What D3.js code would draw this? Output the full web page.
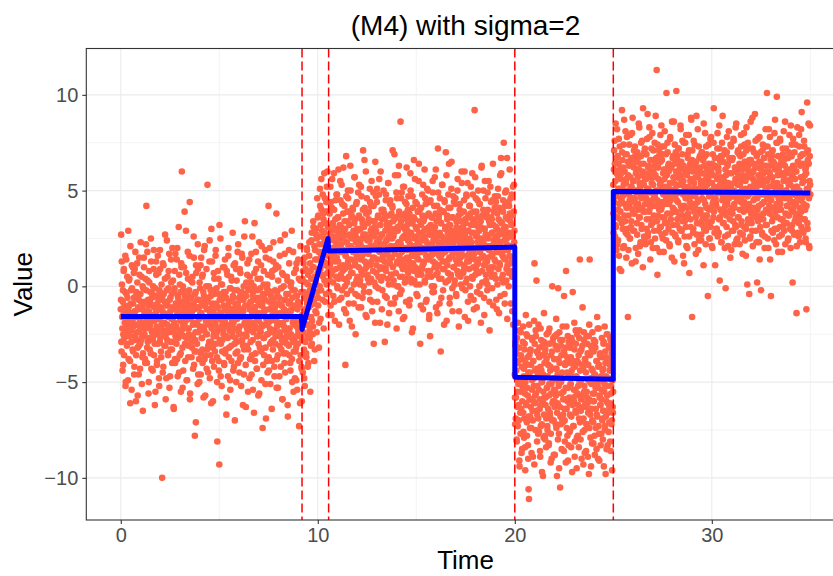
<!DOCTYPE html>
<html>
<head>
<meta charset="utf-8">
<script src="https://cdn.jsdelivr.net/npm/d3@7"></script>
<style>
  body { margin: 0; background: #fff; }
  svg { display: block; }
  text { font-family: "Liberation Sans", Arial, Helvetica, sans-serif; }
</style>
</head>
<body>
<svg id="chart" width="833" height="576"></svg>
<script>
// Observations lie on a regular time grid (every 0.01). Each segment is stored as
// two interleaved series: the even grid steps and the odd grid steps.
const TIME_STEP = 0.02;
const evenStarts = [0, 9.2, 10.56, 20, 25];
const oddStarts  = [0.01, 9.21, 10.57, 20.01, 25.01];

const valuesA = [
  -1.2, 2.7, -3.4, 0.1, -2.2, -0.8, -4.1, -1.5, 0.9, -2.7, -1.9, -0.3, -5.2, -1.1, 1.4, -2.5, -3.0, -0.6, -1.7, 2.9,
  -3.8, -1.0, 0.4, -2.3, -6.1, -1.4, -0.2, -2.9, 1.1, -1.8, -3.3, -0.9, -2.0, 0.7, -4.6, -1.3, -2.6, 1.8, -0.5, -3.6,
  -1.6, -2.4, 0.2, -5.7, -1.1, -0.7, -3.1, 1.5, -2.1, -4.3, -0.4, -1.9, -2.8, 0.5, -1.2, -3.7, -6.5, -0.1, -2.2, 1.0,
  -2.5, -0.8, -4.0, -1.3, 2.2, 4.2, -1.7, -3.2, 0.3, -2.0, -1.0, -5.0, 0.8, -2.7, -1.5, -0.3, -3.5, 1.3, -2.3, -0.6,
  -1.8, -4.4, 0.0, -2.6, 1.9, -1.1, -3.0, -0.5, -5.5, -1.4, 0.6, -2.1, -3.9, -0.9, 1.6, -2.4, -1.2, -4.8, -0.2, -2.9,
  0.9, -1.6, -3.4, -0.7, -2.0, -10.0, -1.3, 1.2, -4.2, -0.4, -2.5, -1.9, 0.4, -3.1, -5.9, -0.8, -1.5, 2.4, -2.8, -1.0,
  -3.6, -0.1, -2.2, 1.7, -1.4, -4.7, -0.6, -2.9, 0.2, -1.7, -3.3, 2.0, -1.1, -2.4, -6.3, -0.3, -1.9, 0.8, -4.0, -2.6,
  -0.9, -2.1, 1.4, -3.8, -1.2, -0.5, -2.7, 3.1, -4.5, -1.6, 0.1, -2.3, -3.5, -0.8, 1.0, 6.0, -1.4, -5.3, -2.0, -0.2,
  -2.6, -1.1, 3.9, -3.0, -0.6, -1.8, 0.7, -4.9, -2.2, -1.3, 1.8, -3.7, -0.4, -2.5, -1.0, 4.4, -5.6, -1.7, 0.3, -2.9,
  -1.5, -3.2, 0.5, -2.0, -0.9, 2.6, -4.1, -1.2, -7.8, -2.8, -0.3, 1.1, -3.4, -1.9, -0.7, -5.1, 0.9, -2.4, -1.1, -3.8,
  0.2, -2.1, -1.4, -4.6, 1.5, -0.8, -2.7, -3.3, 0.6, -1.6, -5.8, -0.5, -2.3, 2.1, -1.0, -3.6, -1.8, 0.0, -4.3, -2.5,
  5.3, -1.2, -3.1, -0.6, -2.0, 1.3, -4.8, -1.5, -0.2, -2.9, 3.0, -1.7, -3.9, -0.9, -6.0, -1.3, 0.7, -2.4, -0.4, -3.4,
  -1.9, 1.9, -2.6, -0.1, -3.7, -8.1, -1.1, -2.2, 0.4, -4.4, -9.3, -0.7, -1.6, 2.5, -3.0, -1.4, -5.2, 0.1, -2.8, -0.5,
  -2.3, -1.0, -4.0, 1.0, -1.8, -3.5, -0.3, -2.6, -6.7, 0.8, -1.3, -2.1, -4.7, 1.6, -0.8, -3.2, -1.5, -0.1, -5.4, -2.0,
  0.5, -3.9, -1.2, -2.4, 2.8, -0.6, -1.9, -4.2, -0.2, -3.0, 1.2, -2.7, -1.1, -5.0, 0.3, -1.7, -3.4, -0.9, 2.2, -2.2,
  -1.4, -4.5, 0.9, -2.5, -0.4, -3.7, -1.6, 1.7, -2.9, -0.7, -6.2, -1.3, 0.0, -3.3, -2.0, 3.4, -1.0, -4.1, -0.5, -2.6,
  -3.1, 0.6, -1.8, -5.5, -0.2, -2.3, 1.4, -1.2, -3.8, -0.8, -2.0, 0.2, -4.6, -1.5, 2.6, -2.8, -0.3, -1.9, -6.6, 0.7,
  -2.2, -1.1, -3.5, 1.8, -0.6, -4.3, -1.7, 0.4, -2.6, -5.7, -0.9, 2.3, -1.4, -3.2, -0.1, -2.4, 1.1, -4.9, -1.0, -2.1,
  -7.4, -0.4, -2.7, 0.8, -3.6, -1.3, -0.7, -5.1, 1.5, -2.0, -1.6, -3.9, 0.1, -2.5, -0.2, 4.2, -4.4, -1.2, 2.0, -3.0,
  -1.8, -0.5, -2.9, -6.4, 0.5, -1.5, -3.3, 1.3, -0.8, -2.3, -4.7, -1.1, 0.9, -2.6, -1.7, 3.8, -3.8, -0.3, -2.0, -5.3,
  1.0, -1.9, -0.6, -3.1, -2.4, 2.4, -4.2, -1.0, -0.1, -2.8, -5.9, -1.4, 0.6, -3.5, -2.1, -0.7, 1.7, -4.5, -1.6, -2.7,
  -0.4, -3.0, -1.3, 0.3, -6.8, -2.2, -0.9, 1.9, -3.6, -1.5, -4.0, 0.0, -2.5, -1.2, 2.9, -5.0, -0.2, -2.9, -1.8, -3.4,
  0.7, -2.0, -4.8, -1.1, -0.5, -3.2, 1.2, -2.6, -5.4, -1.7, -0.8, -2.3, 0.4, -3.9, -1.0, -6.1, 2.1, -2.4, -0.3, -4.3
];
const valuesAOdd = [
  -0.7, -2.9, 1.3, -1.6, -4.4, -0.2, -2.5, 0.8, -3.6, -1.0, -2.2, 1.6, -5.0, -1.4, -0.4, -3.1, 0.5, -2.0, -4.9, -1.1,
  0.3, -2.6, -1.5, -3.9, 2.1, -0.9, -2.3, -5.4, -0.1, -1.8, 1.0, -3.4, -2.1, -0.6, -4.2, 0.9, -1.3, -2.8, -6.0, -0.3,
  -2.0, 1.2, -3.2, -1.2, -0.5, -4.6, -2.4, 0.6, -1.7, -3.0, 2.3, -0.8, -2.7, -5.1, -1.1, 0.0, -3.5, -1.9, 1.5, -2.6,
  -1.4, -3.8, 0.4, -2.2, -0.2, -1.6, -4.0, 1.8, -2.9, -0.7, -5.6, -1.3, 0.2, -3.3, -2.0, -0.9, 2.5, -4.3, -1.5, -2.4,
  -0.4, -2.8, -1.0, 0.9, -3.6, -1.8, -6.2, -0.1, -2.5, 1.3, -1.2, -4.1, -0.6, -2.2, -3.0, 0.7, -1.7, -5.2, -0.3, 1.9,
  -2.7, -1.1, -3.7, 0.1, -1.9, -0.5, -4.5, -2.3, 1.1, -1.4, -3.1, -0.8, 2.7, -2.6, -1.0, -4.8, -0.2, -2.0, 0.5, -3.5,
  -1.6, 0.8, -2.4, -5.3, -0.7, -1.3, -3.3, 1.4, -2.1, -0.4, -4.0, -1.7, 0.3, -2.9, -6.4, -1.2, -0.1, -3.8, 1.7, -2.2,
  -0.9, -3.0, -1.5, 2.0, -4.7, -0.6, -2.5, -1.1, 0.6, -3.6, -1.8, -0.3, -5.5, 1.2, -2.3, -1.0, -3.2, 0.0, -4.4, -1.4,
  1.0, -2.0, -0.5, -3.9, -1.6, 2.9, -2.7, -0.8, -4.9, -1.2, 0.4, -3.1, -2.2, -0.2, 1.6, -5.9, -1.5, -2.8, -0.6, -3.7,
  -1.3, 0.2, -2.6, -4.3, -0.9, 1.5, -1.9, -3.4, -0.4, -2.4, -7.1, 0.7, -1.1, -3.0, -2.0, 2.2, -4.6, -0.7, -1.7, -5.0,
  -2.3, -0.1, 1.1, -3.5, -1.4, -2.7, 0.5, -4.0, -1.0, -0.3, -2.1, 1.9, -3.8, -1.6, -5.7, -0.6, -2.5, 0.9, -1.2, -3.3,
  -0.8, -4.5, -1.8, 0.0, -2.9, 2.4, -1.3, -3.6, -0.5, -6.1, -2.2, 1.3, -1.0, -3.2, -0.2, -2.6, -4.2, 0.4, -1.5, -2.0,
  1.6, -3.0, -0.9, -2.4, -5.0, -1.1, 0.8, -1.7, -3.9, -0.4, 3.2, -2.8, -1.4, -4.7, 0.1, -2.1, -0.7, -3.4, -1.9, 1.0,
  -2.5, -0.3, -4.1, -1.2, 1.4, -2.0, -3.3, -0.6, -5.8, -1.6, 0.6, -2.7, -1.0, 2.0, -3.7, -0.8, -2.3, -4.9, -0.1, -1.4,
  -3.1, 0.3, -1.8, -2.6, -0.5, -4.4, 1.1, -1.3, -2.2, -7.0, -0.9, -3.5, 0.9, -1.6, -2.9, -0.2, 1.8, -4.0, -1.1, -2.4,
  -0.6, -2.1, -3.8, 0.7, -1.5, -5.2, -0.3, -2.8, 1.5, -1.2, -3.1, -0.7, -4.6, 2.6, -1.9, -0.4, -2.5, -6.3, 0.2, -1.7,
  -2.2, 1.2, -1.0, -3.3, -0.1, -2.0, -4.8, 0.5, -1.6, -2.9, -0.8, 1.7, -3.6, -1.3, -0.5, -5.4, -2.4, 0.0, -1.1, 3.3,
  -3.9, -0.7, -2.1, 0.9, -1.4, -4.3, -2.6, -0.2, 1.3, -3.0, -1.8, -5.6, -0.6, -2.3, 0.4, -1.0, -3.4, 2.1, -2.0, -0.9,
  -1.5, -4.1, 0.1, -2.7, -1.2, -0.4, 1.9, -3.2, -6.9, -1.7, -0.1, -2.5, -4.5, 0.6, -1.9, -3.7, -0.8, 1.4, -2.2, -5.1,
  -0.3, -2.4, -1.1, -3.9, 0.8, -1.6, -2.8, 2.3, -0.6, -4.2, -1.3, -0.2, -3.0, -1.8, 1.1, -5.3, -2.1, -0.5, -3.6, 0.3,
  -2.0, -0.9, -4.7, 1.6, -1.4, -2.6, -0.1, -3.3, -1.0, 0.7, -5.9, -1.9, -2.9, 0.0, -1.2, -4.0, 2.7, -2.3, -0.7, -3.5,
  -1.7, 0.5, -2.5, -6.2, -0.4, -1.5, -3.1, 1.2, -2.2, -0.8, -4.4, -1.3, 0.2, -2.7, -3.8, -0.6, -1.9, 1.8, -5.5, -1.0,
  -2.8, -0.2, -1.6, -3.4, 0.9, -4.9, -2.1, -0.5, -1.2, -3.0, 1.4, -2.4, -7.3, -0.9, -1.8, 0.3, -3.6, -2.6, -4.2, -6.0
];

const valuesB = [
  -2.8, 0.4, -4.5, -1.9, 1.2, -3.3, -0.6, -5.2, -2.0, 0.9, -1.4, -3.7, 2.0, -0.9, -2.6, 0.1, -4.0,
  -1.1, 1.6, -2.3, -0.2, -5.5, 0.8, -1.6, 2.4, -3.0, -0.5, 1.0, -2.1, 3.1, -0.8, -3.9, 0.5, 1.9,
  -1.3, 0.2, 2.7, -2.4, 1.4, -0.3, 3.6, -1.0, 0.9, -3.2, 2.2, 0.0, 4.2, -1.7, 1.5, 5.6, 0.6,
  2.9, -0.7, 1.8, 3.8, -2.2, 2.5, 0.3, 4.6, 1.1, 3.3, -0.4, 2.0, 5.2, 0.7, 3.9, 1.6, -1.5
];
const valuesBOdd = [
  -1.5, -3.6, 0.8, -2.4, -0.3, -4.8, 1.5, -1.2, -2.9, 0.2, -3.5, -0.7, 1.9, -2.0, -4.2, 0.6, -1.6,
  -0.4, 2.3, -2.7, 1.2, -1.0, -3.1, 0.4, 2.8, -1.8, 0.0, -2.5, 3.4, 1.0, -0.9, 2.1, -3.3, 1.4,
  0.3, 3.0, -1.4, 2.5, 4.6, 0.7, -0.6, 3.7, 1.8, -1.9, 2.6, 5.1, 0.9, 3.2, -0.2, 4.0, 1.6,
  2.2, 4.8, 0.5, 3.5, 1.3, 5.9, 2.8, -0.8, 3.9, 1.7, 4.4, 0.1, 2.4, 6.0, 3.1, 1.0
];

const valuesC = [
  2.4, -0.3, 3.8, 1.1, 5.2, 0.6, 2.9, -1.5, 4.1, 1.7, 3.3, 0.2, 2.0, 5.9, -0.8, 2.6, 1.3, 4.5, 0.9, 3.0,
  1.5, 4.8, -0.1, 2.2, 3.6, 0.4, -2.0, 2.8, 1.0, 5.5, 1.8, 3.1, -0.6, 2.5, 4.3, 0.8, 1.9, 6.2, 2.7, -1.2,
  3.4, 0.0, -4.1, 1.6, 6.8, 2.3, -0.4, 3.9, 1.2, 4.6, 2.1, 0.5, 3.2, -1.8, 2.6, 5.0, 1.4, -0.2, 3.7, 2.0,
  0.7, 4.0, 1.9, -0.9, 2.8, 5.7, 1.1, 3.5, -2.5, 2.3, 0.3, 4.4, 1.6, 2.9, -0.5, 3.6, 1.0, 5.3, 2.2, 0.1,
  3.0, 1.4, -1.1, 4.7, 2.5, 0.6, 3.3, 7.1, 1.7, -0.3, 2.0, 4.1, 0.9, 2.7, 6.0, 1.2, -1.6, 3.8, 2.4, 0.4,
  1.8, 3.5, 0.2, 2.6, 5.1, -0.7, 2.1, 4.2, 1.3, 3.0, -1.3, 2.8, 0.8, 4.9, -3.0, 1.5, 3.4, 2.0, 6.5, 0.0,
  2.9, 1.1, 4.4, -0.8, 2.3, 3.7, 0.5, 1.9, 5.6, 2.5, -1.9, 3.2, 1.4, 0.3, 4.0, 2.7, -0.2, 3.9, 1.6, 5.0,
  0.9, 2.2, -2.9, 3.6, 1.0, 4.8, 2.4, -0.6, 3.1, 1.7, 0.4, 5.4, 2.0, -1.4, 3.3, 1.2, 4.5, 2.8, 0.6, 3.8,
  1.5, 4.2, 7.1, 0.1, 2.6, -0.9, 3.5, 1.8, 5.8, 2.1, 0.7, 3.0, -2.2, 4.6, 1.3, 2.9, 0.0, 3.7, 6.3, 1.6,
  2.3, -0.4, 8.6, 3.4, 1.1, 4.9, 2.5, 0.5, -1.7, 3.1, 2.0, 5.2, 1.4, 0.2, 3.8, 2.7, -0.8, 4.3, 1.9, 3.2,
  0.8, 2.4, 4.7, 1.0, -1.0, 3.6, 2.2, 5.9, 0.4, 2.8, 1.6, -2.4, 3.3, 4.1, 1.2, 2.0, 6.6, 0.3, 3.5, 1.7,
  4.4, 2.6, 0.1, 3.0, 1.5, -0.5, 3.9, 2.3, 5.5, 0.9, 2.1, 4.0, -3.0, 1.8, 3.2, 0.6, 2.5, 4.8, 1.1, -1.2,
  3.4, 1.3, 2.9, 6.1, 0.2, 2.4, 4.3, 1.6, -0.7, 3.7, 2.0, 0.8, 5.0, 1.4, 3.1, -1.5, 2.7, -2.6, 4.5, 1.9,
  0.5, 3.6, 2.2, -0.3, 4.9, 1.7, 3.0, 0.0, 2.5, 5.7, 1.2, 3.8, -1.1, 2.8, 1.0, 4.2, 0.7, 7.2, 2.3, 3.5,
  1.6, -0.9, 4.6, 2.1, -3.4, 3.3, 0.4, 2.6, 5.3, 1.3, -0.2, 3.9, 2.0, 0.9, 4.4, 1.8, 3.1, 7.0, 2.5, -1.8,
  3.7, 1.1, 2.8, 0.3, 4.1, 6.4, 1.5, -0.6, 3.2, 2.4, 0.6, 5.1, 1.9, 3.6, -1.3, 2.2, 4.7, 1.0, 2.9, 0.1,
  2.0, 4.3, 1.4, -0.4, 3.4, 2.7, 0.8, 5.6, 1.7, 3.0, -2.1, 2.3, 4.0, 1.2, 0.5, 3.8, 2.6, 6.0, 1.6, -0.1,
  3.1, 0.7, 2.5, 4.5, 1.0, -1.6, 3.5, 2.1, 0.2, 4.8, 2.9, 1.3, 5.4, -0.8, 2.4, 3.7, 0.9, 1.8, 4.2, 2.2,
  -0.5, 3.2, 1.5, 2.8, 5.9, 0.4, 2.0, 3.9, -1.2, 1.7, 9.2, 3.3, 0.6, 4.6, 2.6, 1.1, -0.3, 3.6, 2.3, 5.0,
  1.4, 2.9, 0.0, 4.3, 1.9, 3.1, -1.9, 2.5, 6.3, 0.8, 3.7, 1.6, 4.0, 2.2, -0.6, 3.0, 5.5, 1.2, 2.7, 0.3,
  3.8, 2.1, -0.2, 4.9, 1.5, 2.6, 0.9, 3.4, -2.3, 2.0, 5.2, 1.0, 3.6, 0.5, 2.8, 4.5, 1.7, -1.0, 3.2, 2.4,
  0.6, 4.1, 2.2, 1.3, 4.4, -0.7, 3.0, 2.5, 0.1, 4.7, 1.8, 3.5, -1.4, 2.9, 1.1, 5.8, 2.3, 6.7, 0.4, 3.3,
  2.0, 1.6, 3.9, 0.2, 7.5, 2.7, -0.4, 4.2, 1.4, 3.1, 5.0, 0.9, 2.5, -1.7, 3.6, 1.9, 4.4, 0.7, 2.8, 6.1,
  1.2, 3.4, -0.9, 2.6, 4.8, 0.5, 2.1, 3.7, -2.0, 1.5, 5.3, 2.9
];
const valuesCOdd = [
  1.2, 3.9, 0.3, 2.7, -1.0, 4.4, 2.0, 1.5, 5.6, 0.8, 3.1, -0.5, 2.4, 4.0, 1.7, -1.8, 3.5, 2.1, 0.5, 4.8,
  2.9, 0.0, 3.6, 1.3, 6.1, 2.5, -0.7, 3.2, 1.9, 4.5, 0.6, 2.2, 5.3, -0.2, 2.8, 1.1, 3.8, 0.4, 2.6, 4.2,
  0.9, 3.0, 1.6, -1.4, 4.7, 2.3, 0.2, 3.4, 5.0, 1.4, -0.9, 2.7, 3.9, 1.0, 6.3, 2.1, 0.7, 3.6, -2.1, 2.5,
  4.1, 1.8, 2.9, 0.1, 3.3, 5.7, 1.2, -0.4, 2.6, 4.3, 1.5, 3.0, 0.5, 2.0, 4.9, -1.1, 3.7, 1.9, 2.4, 0.3,
  2.2, 5.2, 0.8, 3.5, 1.6, -0.6, 4.0, 2.7, 0.0, 3.1, 6.6, 1.3, 2.5, -1.5, 3.8, 1.0, 4.6, 2.0, 0.6, 3.3,
  1.7, 3.9, -0.3, 2.4, 4.4, 1.1, 2.9, 0.4, 5.5, 2.1, -0.8, 3.4, 1.5, 4.2, 2.6, 0.2, 3.1, -1.9, 2.8, 4.7,
  0.7, 2.3, 5.1, 1.4, 3.6, -0.1, 2.0, 4.8, 1.8, 0.9, 3.2, 6.0, 1.0, 2.7, -1.2, 3.5, 2.2, 0.5, 4.0, 1.6,
  3.8, 1.3, -0.5, 2.9, 4.5, 0.8, 2.4, 3.3, -2.0, 1.9, 5.4, 2.6, 0.1, 3.7, 1.5, 4.3, -0.9, 2.1, 3.0, 0.6,
  2.5, 4.1, 1.0, 3.4, 0.3, 2.8, 6.9, 1.7, -0.6, 3.6, 2.0, 4.9, 1.2, 0.0, 3.1, 5.8, 2.3, -1.3, 3.9, 1.4,
  0.5, 3.2, 2.2, 4.6, -0.2, 1.8, 3.7, 0.9, 5.2, 2.6, 1.1, -1.6, 3.0, 4.4, 2.0, 0.4, 3.5, 6.2, 1.5, 2.9,
  4.0, 0.7, 2.4, 1.3, 3.8, -0.7, 2.7, 5.0, 1.9, 0.2, 3.3, 2.1, 4.7, -2.2, 1.6, 3.6, 0.8, 2.5, 5.6, 1.0,
  3.1, 1.7, -0.4, 4.3, 2.2, 0.6, 3.9, 1.4, 6.4, 2.8, 0.1, 3.4, 1.8, -1.0, 4.1, 2.4, 0.9, 3.7, 2.0, 5.3,
  1.2, 3.5, 2.6, 0.3, 4.6, 1.9, -0.8, 3.0, 2.3, 5.1, 0.5, 2.9, 1.5, 3.8, -1.7, 2.1, 4.4, 0.8, 3.2, 1.6,
  2.7, 0.0, 3.6, 5.5, 1.3, 2.4, -0.3, 4.2, 1.0, 3.1, 2.0, 6.1, 0.6, 3.4, 1.8, -1.4, 2.6, 4.9, 1.1, 3.7,
  0.4, 2.8, 4.0, 1.5, 3.3, -0.6, 2.2, 5.3, 1.7, 0.9, 3.9, 2.5, -2.0, 4.5, 1.3, 3.0, 0.2, 2.4, 5.8, 1.9,
  3.5, 2.1, 0.7, 4.8, 1.4, 3.2, -0.9, 2.6, 4.1, 0.5, 2.9, 6.5, 1.6, -0.1, 3.6, 2.3, 1.0, 4.4, 2.7, 0.3,
  1.8, 4.6, 2.5, -0.5, 3.1, 1.2, 5.0, 2.0, 0.6, 3.7, -1.3, 2.8, 4.3, 1.5, 3.4, 0.1, 2.2, 5.4, 1.9, 3.0,
  2.4, 0.8, 3.9, 1.1, 6.0, 2.7, -0.2, 3.3, 1.6, 4.7, 0.4, 2.1, 3.6, -1.8, 2.9, 1.3, 4.2, 2.5, 0.0, 3.8,
  5.2, 1.7, 2.3, 0.5, 3.5, 4.8, 1.0, -0.7, 2.8, 3.2, 1.4, 5.7, 2.0, 0.9, 3.9, -1.1, 2.6, 4.5, 1.2, 3.1,
  0.7, 2.9, 4.3, 1.8, -0.4, 3.4, 2.2, 6.2, 1.5, 0.2, 3.7, 2.4, 5.0, 1.1, -1.5, 3.0, 2.0, 4.6, 0.6, 2.7,
  3.6, 1.3, 0.1, 4.0, 2.5, 5.5, 1.9, -0.8, 3.2, 2.1, 0.8, 4.4, 1.6, 3.5, -0.1, 2.8, 6.4, 1.0, 3.9, 2.3,
  1.4, 4.7, 2.6, 0.4, 3.1, 1.8, -1.2, 3.8, 2.2, 5.1, 0.9, 2.7, 4.1, 1.2, 3.4, -0.5, 2.0, 5.9, 1.7, 3.3,
  2.9, 0.6, 4.5, 1.5, 3.0, 2.4, -0.9, 4.9, 1.9, 3.6, 0.3, 2.2, 6.7, 1.1, 3.5, 2.7, 0.0, 4.2, 1.6, 3.8,
  2.1, 4.6, 0.8, 3.2, 1.4, -1.3, 2.6, 5.2, 0.5, 3.9, 2.3
];

const valuesD = [
  -4.6, -7.2, -2.9, -5.8, -3.5, -8.1, -4.0, -6.3, -1.9, -5.1, -7.0, -3.2, -9.4, -4.8, -6.6, -2.4, -5.5, -8.7, -3.8, -6.0,
  -5.3, -2.1, -7.6, -4.3, -6.9, -3.0, -8.4, -5.0, -1.5, -6.2, -4.1, -7.8, -2.6, -5.7, -9.0, -10.6, -11.1, -3.6, -4.5, -6.8,
  -3.3, -5.9, -7.4, -2.7, -4.9, -6.5, -8.9, -3.9, -5.2, -1.8, 1.2, -4.4, -6.1, -2.3, -5.6, 0.3, -3.4, -6.7, -4.7, -7.7,
  -2.0, -5.4, -3.7, -6.4, -8.6, -4.2, -7.3, -2.8, -5.0, -9.7, -3.1, -6.0, -4.6, -7.9, -1.4, -5.8, -3.5, -8.0, -6.2, -4.0,
  -6.9, -2.5, -5.3, -7.5, -3.0, -4.1, -8.3, -5.7, -2.2, -6.6, -4.4, -9.2, -3.6, -5.1, -7.0, 0.0, -2.9, -6.0, -4.8, -8.8,
  -3.8, -6.3, -2.6, -5.5, -7.2, -1.7, -4.3, -9.9, -3.3, -6.1, -0.1, -5.0, -7.7, -2.4, -4.9, -10.5, -6.8, -3.1, -5.6, -8.5,
  -4.5, -2.8, -7.1, -5.9, -3.4, -0.5, -6.4, -8.1, -4.0, -5.3, 0.8, -2.1, -7.4, -3.7, -6.0, -9.1, -4.6, -2.9, -5.8, -7.6,
  -6.7, -3.2, -5.1, -8.4, -2.7, -4.7, -6.2, -0.3, -3.9, -7.3, -5.4, -1.9, -8.9, -4.2, -6.5, -3.0, -5.7, -9.5, -2.5, -4.8,
  -7.8, -5.2, -3.6, -6.9, -2.3, 1.4, -4.4, -8.0, -5.9, -3.3, -7.0, -4.1, -1.1, -6.3, -9.3, -2.8, -5.5, -7.5, -3.8, -6.1,
  -4.0, -8.6, -2.6, -5.8, -7.2, -3.5, -6.6, -4.9, -9.8, -2.0, 1.4, -5.0, -7.9, -3.1, -6.4, -4.3, -8.2, -2.4, -5.6, -7.1,
  -3.4, -6.0, -4.6, -8.8, -2.9, -5.3, -7.4, -3.9, -6.7, -1.6, -5.1, -9.0, -4.2, -2.2, -7.7, -5.7, -3.6, -6.2, -8.3, -4.7,
  -5.9, -2.7, -7.0, -4.4, -6.5, -3.0, -9.4, -5.5, -2.1, -7.3, -4.0, -6.8, -3.7, -8.5, -5.2, -2.5, -6.1, -4.8, -7.6, -3.2,
  -6.3, -4.1, -8.1, -2.8, -5.6, -7.2, -3.5, -9.6, -4.9, -6.6
];
const valuesDOdd = [
  -5.8, -3.1, -6.9, -4.4, -8.0, -2.7, -5.5, -7.3, -3.9, -6.2, -4.9, -9.1, -2.3, -5.1, -7.7, -3.6, -6.4, -4.2, -8.5, -5.0,
  -2.9, -6.6, -4.7, -7.9, -3.3, -5.6, -9.6, -4.0, -6.1, -2.5, -7.1, -5.3, -3.7, -8.3, -4.5, -6.8, -2.0, -5.9, -7.4, -3.4,
  -6.3, -4.1, -8.7, -5.4, -2.8, -7.0, -3.9, -6.0, -4.8, -9.3, -3.0, -5.7, -7.5, -2.6, -6.5, -4.3, -8.1, -5.2, -3.5, -6.9,
  -4.6, -7.6, -3.2, -5.9, -8.9, -2.2, -6.2, -4.4, -7.2, -5.0, -3.6, -9.9, -5.5, -2.9, -6.7, -4.0, -7.8, -3.3, -5.8, -8.4,
  -3.8, -5.3, -7.3, -4.7, -6.4, -2.4, -8.2, -5.1, -3.0, -6.8, -4.2, -7.7, -5.6, -9.0, -3.4, -6.1, -4.9, -2.7, -7.0, -5.4,
  -6.0, -8.8, -4.3, -3.1, -5.7, -7.4, -2.5, -6.6, -4.6, -8.0, -3.8, -5.2, -9.5, -4.0, -6.3, -2.8, -7.2, -5.0, -3.6, -6.9,
  -4.8, -2.1, -6.7, -5.5, -8.6, -3.5, -7.0, -4.1, -5.9, -9.2, -3.2, -6.4, -4.5, -7.8, -2.6, -5.3, -8.3, -4.0, -6.1, -3.0,
  -7.5, -5.1, -3.7, -6.8, -4.4, -9.7, -2.9, -5.8, -7.3, -4.2, -6.0, -3.3, -8.1, -5.4, -2.3, -6.6, -4.7, -7.9, -3.9, -5.6,
  -6.2, -4.0, -8.4, -2.7, -5.0, -7.1, -3.4, -6.5, -4.9, -9.0, -5.7, -3.1, -7.6, -4.3, -6.9, -2.4, -5.2, -8.7, -3.8, -6.3,
  -4.5, -7.2, -5.5, -3.0, -6.1, -8.9, -4.1, -2.6, -5.9, -7.4, -3.6, -6.7, -4.8, -9.4, -5.1, -3.3, -7.0, -4.4, -6.0, -8.2,
  -2.8, -5.6, -7.8, -4.6, -3.2, -6.4, -5.0, -8.5, -3.9, -6.8, -2.2, -5.3, -7.3, -4.1, -9.1, -5.8, -3.5, -6.2, -4.9, -7.7,
  -5.4, -3.7, -6.9, -8.0, -4.3, -2.9, -6.5, -5.1, -7.5, -3.4, -9.8, -4.7, -6.0, -2.5, -5.7, -8.3, -4.0, -6.6, -3.1, -7.1,
  -4.4, -6.1, -2.7, -8.6, -5.2, -3.8, -7.0, -4.9, -6.3, -5.5
];

const valuesE = [
  5.3, 2.8, 7.1, 4.0, 6.4, 3.2, 8.5, 4.7, 1.9, 5.9, 3.6, 6.8, 2.4, 5.1, 7.7, 4.3, 0.9, 6.1, 3.9, 5.6,
  0.8, 4.5, 9.2, 6.6, 3.0, 5.0, 7.4, 2.1, 4.8, 6.0, 3.4, 8.1, 5.4, 1.5, 6.9, 4.1, 2.7, -1.6, 5.8, 3.7,
  6.3, 4.2, 2.5, 7.9, 5.2, 3.1, 6.7, 1.2, 4.6, 8.8, 5.5, 3.8, 6.2, 2.9, 4.4, 7.3, 5.0, 2.0, 6.5, 4.9,
  3.3, 7.0, 5.7, 1.7, 4.0, 6.1, 8.3, 3.6, 5.2, 2.3, 6.8, 4.6, 3.0, 7.6, 5.4, 1.0, 4.8, 6.4, 2.6, 5.9,
  7.2, 4.3, 2.2, 5.6, 6.9, 3.5, 4.9, 9.0, 2.8, 5.1, 6.3, 3.9, 7.8, 4.1, 1.4, 5.7, 3.2, 6.6, 4.5, 8.0,
  2.0, 5.3, 6.0, 3.7, 4.7, 7.5, 2.5, 5.8, 4.2, 6.7, 11.3, 3.4, 0.6, 5.0, 6.2, 2.9, 7.1, 4.4, 3.1, 5.5,
  6.5, 4.0, 8.4, 2.7, 5.2, 3.6, 6.9, 4.8, 1.8, 7.3, 5.6, 3.3, 6.1, 4.3, 2.4, 10.1, 5.9, 3.8, 7.0, 4.6,
  3.0, 6.4, 5.1, 2.1, 7.7, 4.5, 3.5, 6.2, 5.0, 8.6, 2.8, 4.1, 6.8, 3.9, 5.4, 1.3, 7.4, 4.7, 2.6, 6.0,
  10.2, 5.7, 3.2, 6.6, 4.4, 2.3, 7.2, 5.3, 3.7, 6.3, 4.9, 8.2, 2.9, 5.8, 4.0, 6.9, 3.4, 1.6, 5.5, 7.5,
  4.2, 2.6, 6.1, 5.0, 3.1, 7.9, 4.6, 5.9, 2.0, 6.7, 3.8, 5.2, 7.1, 0.7, 4.8, 6.4, 3.5, 5.6, 8.7, 4.1,
  -1.6, 6.0, 4.3, 3.0, 7.6, 5.4, 2.2, 6.5, 4.7, 3.6, 5.1, 8.9, 2.7, 6.2, 4.4, 5.7, 1.9, 7.3, 3.3, 5.0,
  6.8, 3.9, 5.5, 2.4, 4.9, 7.0, 3.2, 5.9, 6.6, 1.1, 4.5, 6.3, 3.7, 8.0, 5.2, 2.9, 4.1, 6.9, 5.3, 3.4,
  -0.5, 5.6, 7.4, 4.0, 2.5, 6.1, 4.8, 3.1, 7.8, 5.0, 2.1, 6.4, 4.3, 5.8, 3.6, 9.3, 4.6, 2.8, 6.7, 5.1,
  4.4, 6.2, 3.0, 5.7, 7.2, 2.6, 4.9, 6.0, 3.5, 8.4, 0.3, 5.3, 4.0, 6.8, 2.3, 5.5, 7.5, 3.8, 4.7, 6.5,
  3.3, 5.1, 6.9, 2.0, 4.2, -0.1, 5.8, 3.7, 7.0, 4.5, 6.3, 2.7, 5.4, 8.1, 3.9, 4.8, 6.6, 1.5, 5.2, 7.3,
  5.9, 2.9, 4.1, 6.7, 3.4, 7.7, 5.0, 4.3, 2.2, 6.0, 5.6, 3.1, 8.5, 4.6, 6.2, 2.5, 5.3, 7.1, 3.6, 4.9,
  6.4, 4.0, 2.8, 5.5, 7.9, 3.2, 6.1, 4.7, 1.7, 5.8, 6.9, 3.9, 4.4, 7.4, 2.4, 5.1, 6.5, 3.0, 8.3, 4.2,
  0.1, 5.7, 3.5, 6.3, 4.8, -0.4, 7.2, 5.0, 2.6, 6.6, 4.1, 3.3, 5.9, 8.8, 2.1, 6.0, 4.5, 7.0, 3.7, 5.4,
  4.6, 7.6, 2.9, 5.2, 6.8, 0.2, 4.0, 3.6, 6.2, 5.5, 2.3, 7.8, 4.9, 3.1, 5.8, -0.2, 6.4, 4.3, 2.7, 7.1,
  5.3, 3.8, 6.7, 4.4, 2.0, 7.3, 5.0, 3.2, 6.0, 4.7, 10.1, 5.6, 2.5, 6.9, 3.9, 8.2, 4.2, 5.9, 1.4, 6.3,
  -0.5, 4.5, 7.0, 3.4, 5.7, 2.8, 6.5, 4.1, 5.2, 8.0, 3.0, 6.1, 4.8, 2.2, 7.5, 9.9, 5.4, 3.6, 6.8, 4.0,
  6.2, 2.6, 5.1, 7.7, 4.3, 3.5, 6.4, 5.8, 1.8, 4.9, 7.2, 3.1, 5.5, 6.6, 2.9, 4.6, 8.6, 3.8, 5.0, 6.0,
  3.3, 5.9, 4.2, 2.4, 6.7, 5.3, 3.7, 7.9, 4.5, 6.1, 2.0, 5.6, 4.0, 7.4, 3.2, 0.2, 6.3, 4.8, 5.1, 2.7,
  7.0, 4.4, 6.0, 3.6, 5.2, -1.4, 4.7, 8.3, 2.8, 6.5, 5.0, 3.3, 7.3, 4.1, 2.3, 6.8, 5.7, 3.9, 9.1, 4.6,
  5.4, 2.9, 6.9, 4.3, 7.6, 3.5, 5.8, 4.0, 2.5, 6.2, -1.2, 5.1, 9.6, 3.0, 7.1, 4.9, 6.4, 2.1, 5.5, 8.4,
  4.8
];
const valuesEOdd = [
  3.8, 6.1, 4.4, 7.6, 2.6, 5.5, 3.1, 6.7, 4.9, 8.2, 2.2, 5.8, 4.0, 6.4, 1.6, 5.1, 7.3, 3.5, 6.0, 4.6,
  5.9, 3.3, 7.0, 4.7, 2.0, 6.2, 5.3, 8.7, 3.7, 4.3, 6.9, 2.8, 5.6, 4.1, 7.8, 3.0, 6.5, 5.0, 1.9, 4.8,
  7.4, 4.5, 2.5, 5.7, 6.6, 3.4, 5.2, 8.0, 4.0, 6.3, 2.9, 5.5, 7.1, 3.8, 4.6, 6.8, 1.3, 5.9, 4.2, 6.1,
  2.7, 5.0, 6.7, 4.3, 8.5, 3.6, 5.4, 2.1, 6.4, 4.8, 7.5, 3.2, 5.8, 4.1, 6.0, 9.3, 3.9, 5.3, 7.0, 2.4,
  5.6, 3.9, 6.9, 4.6, 3.0, 7.7, 5.1, 2.6, 6.2, 4.4, 5.9, 8.3, 3.5, 6.6, 4.9, 2.3, 7.2, 5.4, 3.3, 6.0,
  4.2, 7.1, 5.7, 2.9, 6.3, 4.7, 3.4, 8.9, 5.0, 6.5, 2.0, 4.5, 7.4, 3.7, 5.6, 6.8, 4.0, 1.8, 5.3, 7.9,
  3.1, 5.5, 4.1, 6.6, 7.3, 2.5, 5.9, 4.4, 6.1, 3.6, 8.1, 5.2, 2.8, 6.9, 4.6, 5.8, 3.3, 7.5, 4.8, 6.3,
  6.0, 4.3, 2.2, 5.4, 7.8, 3.8, 6.2, 5.0, 1.5, 4.7, 6.7, 3.2, 5.7, 8.6, 4.0, 6.4, 2.7, 5.1, 7.0, 3.9,
  4.5, 6.8, 3.5, 5.9, 2.4, 7.2, 4.9, 6.1, 3.0, 5.6, 8.4, 4.2, 6.5, 2.9, 5.3, 7.6, 3.7, 4.8, 6.3, 1.2,
  5.2, 3.4, 7.5, 4.6, 6.0, 2.1, 5.8, 4.1, 6.9, 3.6, 5.0, 7.9, 2.6, 6.2, 4.4, 5.5, 3.1, 8.8, 4.7, 6.6,
  7.1, 4.8, 2.8, 6.3, 5.1, 3.9, 7.4, 4.2, 5.7, 1.7, 6.5, 4.9, 3.3, 6.0, 8.2, 4.5, 5.9, 2.4, 6.7, 3.8,
  4.0, 6.2, 5.3, 2.7, 7.0, 4.6, 3.5, 6.6, 5.5, 8.5, 3.0, 5.1, 6.8, 4.3, 2.2, 7.3, 5.7, 3.7, 6.1, 4.9,
  5.8, 3.2, 6.4, 4.7, 2.5, 5.9, 7.7, 4.1, 6.0, 3.4, 5.4, 2.0, 6.9, 4.4, 7.5, 3.9, 5.2, 6.3, 1.1, 4.6,
  6.7, 4.2, 3.0, 5.6, 8.0, 4.9, 6.2, 2.8, 5.0, 7.2, 3.6, 6.5, 4.0, 5.7, 2.3, 6.8, 4.5, 8.9, 3.3, 5.3,
  3.9, 5.5, 7.1, 2.6, 6.1, 4.8, 5.2, 3.1, 7.8, 4.3, 6.4, 2.1, 5.9, 4.6, 6.7, 3.5, 5.1, 7.4, 4.0, 1.9,
  5.0, 6.6, 3.8, 4.7, 2.9, 7.6, 5.4, 4.1, 6.2, 3.2, 8.3, 5.6, 2.4, 6.0, 4.5, 7.0, 3.6, 5.8, 4.9, 6.9,
  2.2, 5.3, 6.8, 4.4, 7.3, 3.4, 5.0, 6.3, 2.7, 5.7, 4.2, 8.0, 3.1, 6.5, 4.8, 5.5, 1.6, 7.1, 4.0, 6.1,
  4.7, 7.5, 3.3, 5.9, 4.3, 6.6, 2.5, 5.2, 8.6, 3.8, 6.0, 4.9, 2.9, 7.2, 5.6, 3.6, 6.4, 4.1, 5.4, 9.0,
  6.2, 3.9, 5.1, 2.3, 6.9, 4.6, 7.7, 3.4, 5.8, 4.2, 6.5, 1.4, 5.3, 7.0, 3.7, 6.1, 4.8, 2.8, 5.6, 7.4,
  3.5, 5.9, 4.4, 6.7, 2.6, 5.0, 8.2, 4.0, 6.3, 3.2, 5.5, 7.3, 4.7, 2.0, 6.0, 5.2, 3.8, 7.8, 4.5, 6.6,
  5.7, 2.9, 6.8, 4.1, 7.1, 3.6, 5.4, 4.8, 2.4, 6.4, 8.7, 3.9, 5.1, 6.2, 4.3, 3.0, 7.5, 5.8, 1.8, 4.6,
  6.0, 4.5, 3.1, 7.6, 5.2, 4.0, 6.6, 2.7, 5.9, 3.5, 6.9, 4.7, 8.1, 3.3, 5.6, 6.3, 2.2, 4.9, 7.2, 5.0,
  4.2, 6.7, 5.5, 3.7, 2.5, 7.0, 4.6, 6.1, 3.0, 5.3, 8.4, 4.4, 6.8, 2.9, 5.8, 3.9, 7.7, 4.1, 6.2, 5.1,
  3.4, 5.6, 7.4, 4.3, 6.0, 2.1, 5.2, 3.8, 6.5, 4.9, 2.6, 7.9, 5.0, 3.6, 6.3, 4.5, 8.2, 3.1, 5.7, 6.9,
  4.0, 6.4, 2.8, 5.5, 7.3, 3.5, 4.8, 6.1, 2.3, 5.9, 4.2, 7.0, 3.3, 6.6, 5.1, 8.5, 4.6, 2.0, 6.8, 5.3
];

// Fitted piecewise trend
const fitTime  = [0, 9.17, 9.2, 10.52, 10.55, 20, 20, 25, 25, 35];
const fitValue = [-1.57, -1.57, -2.25, 2.5, 1.85, 2.05, -4.75, -4.85, 4.95, 4.88];

// Detected change points
const changePoints = [9.2, 10.55, 20, 25];

const xTicks = [0, 10, 20, 30];
const xMinorTicks = [5, 15, 25, 35];
const yTicks = [-10, -5, 0, 5, 10];
const yMinorTicks = [-7.5, -2.5, 2.5, 7.5];

const titleText = "(M4) with sigma=2";
const xLabel = "Time";
const yLabel = "Value";

// ---- layout ----
const panel = { left: 86.3, right: 844.8, top: 48.5, bottom: 520 };

const x = d3.scaleLinear().domain([-1.75, 36.75]).range([panel.left, panel.right]);
const y = d3.scaleLinear().domain([-12.2, 12.42]).range([panel.bottom, panel.top]);

const evenSeries = [valuesA, valuesB, valuesC, valuesD, valuesE];
const oddSeries  = [valuesAOdd, valuesBOdd, valuesCOdd, valuesDOdd, valuesEOdd];
const points = [];
[[evenSeries, evenStarts], [oddSeries, oddStarts]].forEach(([series, starts]) => {
  series.forEach((vals, s) => {
    vals.forEach((v, i) => points.push({ t: starts[s] + i * TIME_STEP, v }));
  });
});
points.sort((a, b) => a.t - b.t);

const svg = d3.select("#chart");

svg.append("rect").attr("width", 833).attr("height", 576).attr("fill", "#fff");

svg.append("clipPath").attr("id", "panel-clip")
  .append("rect")
  .attr("x", panel.left).attr("y", panel.top)
  .attr("width", panel.right - panel.left).attr("height", panel.bottom - panel.top);

const plot = svg.append("g").attr("clip-path", "url(#panel-clip)");

// grid
const grid = plot.append("g");
grid.selectAll(".xminor").data(xMinorTicks).join("line")
  .attr("x1", d => x(d)).attr("x2", d => x(d))
  .attr("y1", panel.top).attr("y2", panel.bottom)
  .attr("stroke", "#ebebeb").attr("stroke-width", 0.6);
grid.selectAll(".yminor").data(yMinorTicks).join("line")
  .attr("y1", d => y(d)).attr("y2", d => y(d))
  .attr("x1", panel.left).attr("x2", panel.right)
  .attr("stroke", "#ebebeb").attr("stroke-width", 0.6);
grid.selectAll(".xmajor").data(xTicks).join("line")
  .attr("x1", d => x(d)).attr("x2", d => x(d))
  .attr("y1", panel.top).attr("y2", panel.bottom)
  .attr("stroke", "#ebebeb").attr("stroke-width", 1.1);
grid.selectAll(".ymajor").data(yTicks).join("line")
  .attr("y1", d => y(d)).attr("y2", d => y(d))
  .attr("x1", panel.left).attr("x2", panel.right)
  .attr("stroke", "#ebebeb").attr("stroke-width", 1.1);

// observations
plot.append("g").selectAll("circle").data(points).join("circle")
  .attr("cx", d => x(d.t)).attr("cy", d => y(d.v))
  .attr("r", 3.3).attr("fill", "#ff6347");

// change points
plot.append("g").selectAll("line").data(changePoints).join("line")
  .attr("x1", d => x(d)).attr("x2", d => x(d))
  .attr("y1", panel.top).attr("y2", panel.bottom)
  .attr("stroke", "#ff0000").attr("stroke-width", 1.5)
  .attr("stroke-dasharray", "9,4");

// fitted trend
const fitData = fitTime.map((t, i) => ({ t, v: fitValue[i] }));
plot.append("path").datum(fitData)
  .attr("d", d3.line().x(d => x(d.t)).y(d => y(d.v)))
  .attr("fill", "none").attr("stroke", "#0000ff")
  .attr("stroke-width", 5).attr("stroke-linejoin", "round");

// panel border
svg.append("rect")
  .attr("x", panel.left).attr("y", panel.top)
  .attr("width", panel.right - panel.left).attr("height", panel.bottom - panel.top)
  .attr("fill", "none").attr("stroke", "#333").attr("stroke-width", 1.1);

// axes
const fmt = d3.format("d");
const xAxis = svg.append("g").attr("transform", `translate(0,${panel.bottom})`)
  .call(d3.axisBottom(x).tickValues(xTicks).tickFormat(fmt).tickSize(4).tickPadding(4));
const yAxis = svg.append("g").attr("transform", `translate(${panel.left},0)`)
  .call(d3.axisLeft(y).tickValues(yTicks).tickFormat(fmt).tickSize(4).tickPadding(4));
[xAxis, yAxis].forEach(a => {
  a.select(".domain").remove();
  a.selectAll(".tick line").attr("stroke", "#333").attr("stroke-width", 1.1);
  a.selectAll(".tick text").attr("fill", "#4d4d4d").attr("font-size", 20)
    .style("font-family", '"Liberation Sans", Arial, sans-serif');
});

// titles
const midX = (panel.left + panel.right) / 2;
svg.append("text").attr("x", midX).attr("y", 35)
  .attr("text-anchor", "middle").attr("font-size", 28).attr("fill", "#000")
  .text(titleText);
svg.append("text").attr("x", midX).attr("y", 569)
  .attr("text-anchor", "middle").attr("font-size", 26).attr("fill", "#000")
  .text(xLabel);
svg.append("text")
  .attr("transform", `translate(32,${(panel.top + panel.bottom) / 2}) rotate(-90)`)
  .attr("text-anchor", "middle").attr("font-size", 26).attr("fill", "#000")
  .text(yLabel);
</script>
</body>
</html>
